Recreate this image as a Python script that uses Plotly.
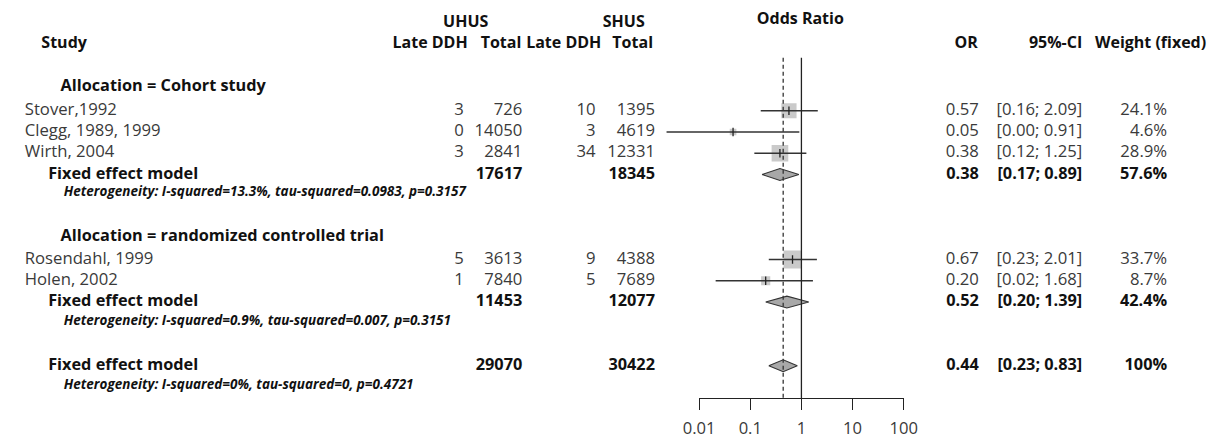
import numpy as np
import plotly.graph_objects as go

# ---------------- data ----------------
studies = ["Stover,1992", "Clegg, 1989, 1999", "Wirth, 2004", "Rosendahl, 1999", "Holen, 2002"]
study_group = [0, 0, 0, 1, 1]
uhus_events = [3, 0, 3, 5, 1]
uhus_total = [726, 14050, 2841, 3613, 7840]
shus_events = [10, 3, 34, 9, 5]
shus_total = [1395, 4619, 12331, 4388, 7689]
odds_ratio = [0.57, 0.046, 0.38, 0.67, 0.20]
ci_low = [0.16, 0.0023, 0.12, 0.23, 0.021]
ci_high = [2.09, 0.91, 1.25, 2.01, 1.68]
weight = [24.1, 4.6, 28.9, 33.7, 8.7]

subgroups = ["Allocation = Cohort study", "Allocation = randomized controlled trial"]
sub_or = [0.38, 0.52]
sub_low = [0.17, 0.20]
sub_high = [0.89, 1.39]
sub_het = ["Heterogeneity: I-squared=13.3%, tau-squared=0.0983, p=0.3157",
           "Heterogeneity: I-squared=0.9%, tau-squared=0.007, p=0.3151"]
overall_or = 0.44
overall_low = 0.23
overall_high = 0.83
overall_het = "Heterogeneity: I-squared=0%, tau-squared=0, p=0.4721"

tick_vals = [0.01, 0.1, 1, 10, 100]
tick_text = ["0.01", "0.1", "1", "10", "100"]

# ---------------- layout of rows ----------------
W, H = 1227, 439
study_rows = [0, 1, 2, 7, 8]
sub_header_rows = [-1.1, 5.93]
sub_rows = [3, 9]
sub_het_rows = [3.87, 9.9]
overall_row = 12
overall_het_row = 12.95
header_row = -3.15
group_header_row = -4.13

ROW0_PX, ROW_PX = 111.0, 21.3
AXIS_PX = 399.0
y_bottom = (AXIS_PX - ROW0_PX) / ROW_PX
y_top = (0 - ROW0_PX) / ROW_PX

DEC = 52.4
X001 = 700.3
mark_dom = (600.0, 940.0)
mark_range = [-2 + (mark_dom[0] - X001) / DEC, -2 + (mark_dom[1] - X001) / DEC]

def px(x):
    return x / W

REG = "#3a3a3a"
BLD = "#111111"
FONT = "Open Sans"
BODY = 16.7
BODYB = 16.3
HEAD = 16
HET = 13.5

fig = go.Figure()

# reference lines (on the visible axis)
line_top = -2.49
fig.add_trace(go.Scatter(x=[1, 1], y=[line_top, y_bottom], mode="lines",
                         line=dict(color="#222222", width=1.3), xaxis="x2", yaxis="y",
                         hoverinfo="skip", showlegend=False))
fig.add_trace(go.Scatter(x=[overall_or, overall_or], y=[line_top, y_bottom], mode="lines",
                         line=dict(color="#333333", width=1.3, dash="4px,3px"), xaxis="x2", yaxis="y",
                         hoverinfo="skip", showlegend=False))

# squares sized by weight
fig.add_trace(go.Scatter(x=odds_ratio, y=study_rows, mode="markers",
                         marker=dict(symbol="square", size=[3.1 * np.sqrt(w) for w in weight],
                                     color="#b4b4b4", line=dict(width=0)),
                         xaxis="x", yaxis="y", hoverinfo="skip", showlegend=False))
# confidence intervals
cx, cy = [], []
for lo, hi, r in zip(ci_low, ci_high, study_rows):
    cx += [lo, hi, None]
    cy += [r, r, None]
fig.add_trace(go.Scatter(x=cx, y=cy, mode="lines", line=dict(color="#333333", width=1.3),
                         xaxis="x", yaxis="y", hoverinfo="skip", showlegend=False))
# point estimate ticks
fig.add_trace(go.Scatter(x=odds_ratio, y=study_rows, mode="markers",
                         marker=dict(symbol="line-ns", size=6, line=dict(color="#222222", width=1.3)),
                         xaxis="x", yaxis="y", hoverinfo="skip", showlegend=False))

# pooled diamonds
DH = 0.28
for o, lo, hi, r in list(zip(sub_or, sub_low, sub_high, sub_rows)) + [(overall_or, overall_low, overall_high, overall_row)]:
    fig.add_trace(go.Scatter(x=[lo, o, hi, o, lo], y=[r, r - DH, r, r + DH, r], mode="lines",
                             fill="toself", fillcolor="#a8a8a8",
                             line=dict(color="#333333", width=1.2),
                             xaxis="x", yaxis="y", hoverinfo="skip", showlegend=False))

# ---------------- text columns ----------------
groups = {}
def txt(x, y, s, anchor="left", bold=False, size=BODY, italic=False):
    key = (anchor, bold, italic, size)
    g = groups.setdefault(key, ([], [], []))
    g[0].append(x)
    g[1].append(y)
    g[2].append(s)

txt(26, header_row, "Study", bold=True, size=HEAD)
txt(461, group_header_row, "UHUS", anchor="center", bold=True, size=HEAD)
txt(623, group_header_row, "SHUS", anchor="center", bold=True, size=HEAD)
txt(804, group_header_row - 0.14, "Odds Ratio", anchor="center", bold=True, size=HEAD)
txt(463, header_row, "Late DDH", anchor="right", bold=True, size=HEAD)
txt(518, header_row, "Total", anchor="right", bold=True, size=HEAD)
txt(600, header_row, "Late DDH", anchor="right", bold=True, size=HEAD)
txt(653, header_row, "Total", anchor="right", bold=True, size=HEAD)
txt(986, header_row, "OR", anchor="right", bold=True, size=HEAD)
txt(1093, header_row, "95%-CI", anchor="right", bold=True, size=HEAD)
txt(1220, header_row, "Weight (fixed)", anchor="right", bold=True, size=HEAD)

for name, r in zip(subgroups, sub_header_rows):
    txt(45.6, r, name, bold=True, size=BODYB)

for i, r in enumerate(study_rows):
    txt(9, r, studies[i])
    txt(459, r, str(uhus_events[i]), anchor="right")
    txt(519, r, str(uhus_total[i]), anchor="right")
    txt(594, r, str(shus_events[i]), anchor="right")
    txt(655, r, str(shus_total[i]), anchor="right")
    txt(987, r, f"{odds_ratio[i]:.2f}", anchor="right")
    txt(1093, r, f"[{ci_low[i]:.2f}; {ci_high[i]:.2f}]", anchor="right")
    txt(1180, r, f"{weight[i]:.1f}%", anchor="right")

for g, r in enumerate(sub_rows):
    idx = [i for i in range(len(studies)) if study_group[i] == g]
    txt(33, r, "Fixed effect model", bold=True, size=BODYB)
    txt(519, r, str(sum(uhus_total[i] for i in idx)), anchor="right", bold=True, size=BODYB)
    txt(655, r, str(sum(shus_total[i] for i in idx)), anchor="right", bold=True, size=BODYB)
    txt(987, r, f"{sub_or[g]:.2f}", anchor="right", bold=True, size=BODYB)
    txt(1093, r, f"[{sub_low[g]:.2f}; {sub_high[g]:.2f}]", anchor="right", bold=True, size=BODYB)
    txt(1180, r, f"{sum(weight[i] for i in idx):.1f}%", anchor="right", bold=True, size=BODYB)
    txt(49, sub_het_rows[g], sub_het[g], bold=True, italic=True, size=HET)

txt(33, overall_row, "Fixed effect model", bold=True, size=BODYB)
txt(519, overall_row, str(sum(uhus_total)), anchor="right", bold=True, size=BODYB)
txt(655, overall_row, str(sum(shus_total)), anchor="right", bold=True, size=BODYB)
txt(987, overall_row, f"{overall_or:.2f}", anchor="right", bold=True, size=BODYB)
txt(1093, overall_row, f"[{overall_low:.2f}; {overall_high:.2f}]", anchor="right", bold=True, size=BODYB)
txt(1180, overall_row, f"{round(sum(weight))}%", anchor="right", bold=True, size=BODYB)
txt(49, overall_het_row, overall_het, bold=True, italic=True, size=HET)

pos_map = {"left": "middle right", "right": "middle left", "center": "middle center"}
for (anchor, bold, italic, size), (xs, ys, ss) in groups.items():
    fig.add_trace(go.Scatter(
        x=xs, y=ys, text=ss, mode="text", textposition=pos_map[anchor],
        textfont=dict(family=FONT, size=size, color=BLD if bold else REG,
                      weight="bold" if bold else "normal",
                      style="italic" if italic else "normal"),
        xaxis="x3", yaxis="y", cliponaxis=False, hoverinfo="skip", showlegend=False))

fig.update_layout(
    width=W, height=H,
    margin=dict(l=0, r=0, t=0, b=0),
    paper_bgcolor="white", plot_bgcolor="rgba(0,0,0,0)",
    showlegend=False,
    xaxis=dict(type="log", range=mark_range, domain=[px(mark_dom[0]), px(mark_dom[1])],
               anchor="y", showline=False, showgrid=False, zeroline=False,
               showticklabels=False, ticks=""),
    xaxis2=dict(type="log", range=[-2, 2], domain=[px(X001), px(X001 + 4 * DEC)],
                anchor="y", showline=True, linecolor="#222222", linewidth=1.3,
                ticks="outside", ticklen=11, tickwidth=1.3, tickcolor="#222222",
                tickvals=tick_vals, ticktext=tick_text, showgrid=False, zeroline=False,
                ticklabelstandoff=4,
                tickfont=dict(family=FONT, size=16.6, color=REG)),
    xaxis3=dict(range=[0, W], domain=[0, 1], anchor="y", visible=False),
    yaxis=dict(range=[y_bottom, y_top], domain=[(H - AXIS_PX) / H, 1], anchor="x",
               visible=False),
)

fig.write_html("out.html", config={"displayModeBar": False},
               post_script="document.body.style.margin='0px';document.body.style.overflow='hidden';")
